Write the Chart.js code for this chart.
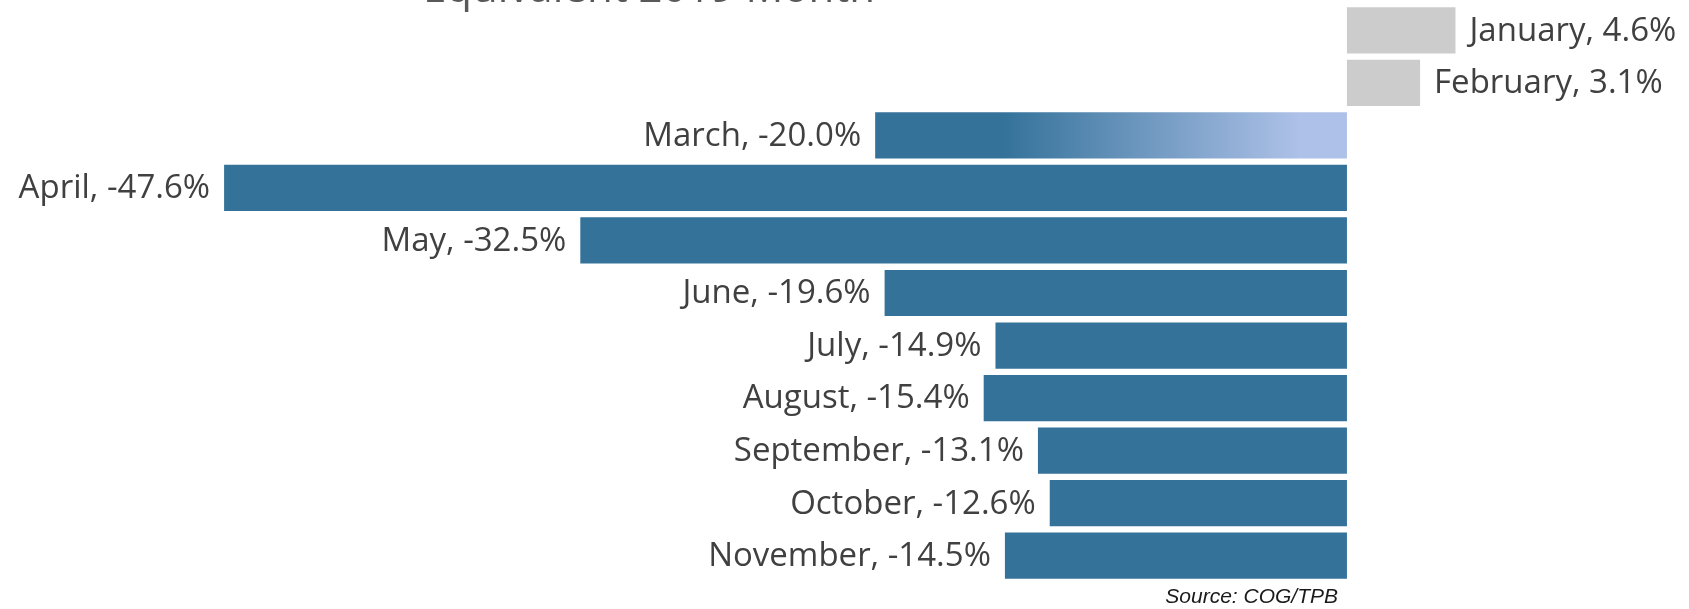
<!DOCTYPE html>
<html>
<head>
<meta charset="utf-8">
<script src="https://cdn.jsdelivr.net/npm/chart.js@4/dist/chart.umd.min.js"></script>
<style>
  html, body { margin: 0; padding: 0; background: #fff; }
  #wrap { width: 1689px; height: 609px; position: relative; }
</style>
</head>
<body>
<div id="wrap"><canvas id="chart"></canvas></div>
<script>
const months = ['January', 'February', 'March', 'April', 'May', 'June', 'July', 'August', 'September', 'October', 'November'];
const changes = [4.6, 3.1, -20.0, -47.6, -32.5, -19.6, -14.9, -15.4, -13.1, -12.6, -14.5];
const titleText = 'Equivalent 2019 Month';
const sourceText = 'Source: COG/TPB';

const blue = '#34729A';
const grey = '#CCCCCC';
const light = '#AEC1E8';

// March fades out towards the zero line
const barColor = (ctx) => {
    const i = ctx.dataIndex;
    const v = changes[i];
    if (v > 0) return grey;
    if (months[i] !== 'March') return blue;
    const chart = ctx.chart;
    if (!chart.chartArea || !chart.scales.x) return blue;
    const x0 = chart.scales.x.getPixelForValue(v);
    const x1 = chart.scales.x.getPixelForValue(0);
    const g = chart.ctx.createLinearGradient(x0, 0, x1, 0);
    g.addColorStop(0, blue);
    g.addColorStop(0.27, blue);
    g.addColorStop(0.9, light);
    g.addColorStop(1, light);
    return g;
};

const labelPlugin = {
    id: 'barLabels',
    afterDatasetsDraw(chart) {
        const { ctx } = chart;
        const meta = chart.getDatasetMeta(0);
        ctx.save();
        ctx.font = '33px "Open Sans"';
        ctx.fillStyle = '#404040';
        ctx.textBaseline = 'middle';
        meta.data.forEach((bar, i) => {
            const v = changes[i];
            const txt = months[i] + ', ' + v.toFixed(1) + '%';
            if (v < 0) {
                ctx.textAlign = 'right';
                ctx.fillText(txt, bar.x - 14, bar.y + 1);
            } else {
                ctx.textAlign = 'left';
                ctx.fillText(txt, bar.x + 14, bar.y + 1);
            }
        });

        // title is cut off by the top edge in the original
        ctx.font = '42px "Open Sans"';
        ctx.fillStyle = '#595959';
        ctx.textAlign = 'center';
        ctx.textBaseline = 'alphabetic';
        ctx.fillText(titleText, 649, 2);

        ctx.font = 'italic 21px "Liberation Sans"';
        ctx.fillStyle = '#1a1a1a';
        ctx.textAlign = 'right';
        ctx.fillText(sourceText, 1338, 603);
        ctx.restore();
    }
};

new Chart(document.getElementById('chart'), {
    type: 'bar',
    data: {
        labels: months,
        datasets: [{
            data: changes,
            backgroundColor: barColor,
            borderWidth: 0,
            barPercentage: 1,
            categoryPercentage: 0.88
        }]
    },
    options: {
        indexAxis: 'y',
        responsive: true,
        maintainAspectRatio: false,
        animation: false,
        layout: { padding: { top: 4, bottom: 27, left: 0, right: 0 } },
        scales: {
            x: { min: -57.1, max: 14.5, display: false },
            y: { display: false }
        },
        plugins: {
            legend: { display: false },
            tooltip: { enabled: false },
            title: { display: false }
        }
    },
    plugins: [labelPlugin]
});
</script>
</body>
</html>
